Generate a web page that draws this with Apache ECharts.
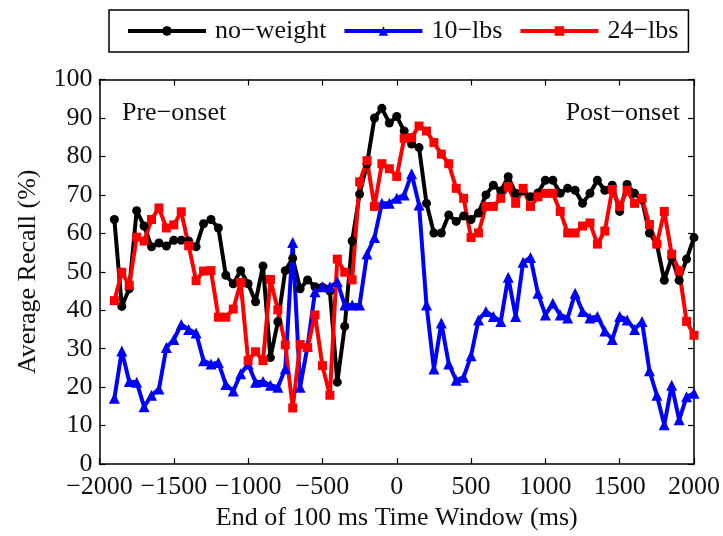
<!DOCTYPE html>
<html>
<head>
<meta charset="utf-8">
<script src="https://cdn.jsdelivr.net/npm/echarts@6/dist/echarts.min.js"></script>
<style>
  html, body { margin: 0; padding: 0; background: #fff; }
  #chart { width: 723px; height: 536px; }
</style>
</head>
<body>
<div id="chart"></div>
<script>
// end of each 100 ms window (ms)
const TIMES = [-1900, -1850, -1800, -1750, -1700, -1650, -1600, -1550, -1500, -1450,
  -1400, -1350, -1300, -1250, -1200, -1150, -1100, -1050, -1000, -950,
  -900, -850, -800, -750, -700, -650, -600, -550, -500, -450,
  -400, -350, -300, -250, -200, -150, -100, -50, 0, 50,
  100, 150, 200, 250, 300, 350, 400, 450, 500, 550,
  600, 650, 700, 750, 800, 850, 900, 950, 1000, 1050,
  1100, 1150, 1200, 1250, 1300, 1350, 1400, 1450, 1500, 1550,
  1600, 1650, 1700, 1750, 1800, 1850, 1900, 1950, 2000]

const NO_WEIGHT = [63.6, 41, 45.6, 65.9, 61.9, 56.5, 57.5, 56.7, 58.2, 58.2,
  58, 56.5, 62.5, 63.6, 61.4, 49.1, 46.9, 50.3, 46.9, 42.2,
  51.5, 27.7, 37, 50.3, 53.5, 45.6, 47.9, 46.1, 46, 45,
  21.3, 35.8, 58, 70.2, 78, 90, 92.5, 88.7, 90.4, 86.6,
  83.2, 82.3, 67.8, 60.1, 60.1, 64.8, 63.1, 64.5, 63.6, 65.3,
  70, 72.5, 71, 74.7, 70.4, 71, 69.5, 70.5, 73.8, 73.8,
  70.4, 71.7, 71.2, 67.8, 70.4, 73.8, 71.2, 72.5, 65.7, 72.7,
  70.4, 68.7, 60.1, 57.2, 47.8, 53.7, 47.8, 53.3, 58.9]

const LBS_10 = [17.1, 29.4, 21.5, 21.3, 14.9, 17.9, 19.5, 30.3, 32.4, 36.3,
  35, 34.1, 26.9, 26, 26.4, 20.7, 19, 23.5, 26, 21.3,
  21.5, 20.5, 20, 24.8, 57.6, 20, 30.7, 44.8, 46.1, 46.1,
  47.4, 41.4, 41.4, 41.4, 54.6, 58.9, 67.8, 67.8, 69.1, 70,
  75.5, 67.4, 41.4, 24.7, 36.7, 26, 21.8, 22.6, 28.2, 37.5,
  39.7, 38.4, 37.1, 48.6, 38.4, 52.5, 53.7, 44.4, 38.8, 41.8,
  38.8, 38, 44.4, 39.7, 38, 38.4, 34.6, 32.4, 38.4, 37.5,
  35, 37.1, 24.3, 17.9, 10.2, 20.5, 11.5, 17.5, 18.4]

const LBS_24 = [42.5, 49.9, 46.5, 59, 58, 63.6, 66.6, 61.4, 62.2, 65.6,
  56.8, 47.7, 50.2, 50.3, 38.2, 38.2, 40.3, 47.2, 26.9, 29.2,
  26.9, 48, 40.1, 31, 14.6, 31.1, 30.3, 38.8, 25.6, 17.9,
  53.3, 49.9, 47.9, 73.4, 78.9, 67, 78.1, 76.8, 74.8, 84.7,
  84.9, 87.9, 86.6, 83.6, 80.6, 78.1, 71.7, 69.1, 58.9, 60.1,
  67, 67, 69.1, 72.1, 67.8, 71.7, 67, 69.5, 70.4, 70.4,
  65.7, 60.1, 60.1, 61.9, 62.7, 57.2, 60.6, 71.4, 67, 71.2,
  67.8, 69.1, 62.3, 57.2, 65.7, 54.6, 50.3, 37.1, 33.5]

const SERIES_NAMES = ['no\u2212weight', '10\u2212lbs', '24\u2212lbs']

const FONT = "'Liberation Serif', 'Times New Roman', serif"

function pairs(vals) {
  return TIMES.map((t, i) => [t, vals[i]])
}

function minusFmt(v) {
  return v < 0 ? '\u2212' + (-v) : String(v)
}

const axisBase = {
  axisLine: { onZero: false, lineStyle: { color: '#000', width: 1.5 } },
  axisTick: { inside: true, length: 6, lineStyle: { color: '#000', width: 1.2 } },
  splitLine: { show: false }
}

let option = {
  animation: false,
  backgroundColor: '#fff',
  grid: { left: 99.5, right: 28, top: 79.5, bottom: 66 },
  legend: {
    data: SERIES_NAMES,
    left: 109,
    top: 10,
    padding: [6, 10, 6, 17],
    itemGap: 16,
    itemWidth: 78,
    itemHeight: 12,
    borderColor: '#000',
    borderWidth: 1.5,
    lineStyle: { width: 4 },
    textStyle: { fontFamily: FONT, fontSize: 26, color: '#111', padding: [0, 0, 0, 4], lineHeight: 30 }
  },
  xAxis: [
    Object.assign({}, axisBase, {
      type: 'value', min: -2000, max: 2000, interval: 500,
      name: 'End of 100 ms Time Window (ms)',
      nameLocation: 'middle', nameGap: 40,
      nameTextStyle: { fontFamily: FONT, fontSize: 26, color: '#111' },
      axisLabel: { fontFamily: FONT, fontSize: 26, color: '#111', margin: 10, formatter: minusFmt }
    }),
    Object.assign({}, axisBase, {
      type: 'value', position: 'top', min: -2000, max: 2000, interval: 500,
      axisLabel: { show: false }
    })
  ],
  yAxis: [
    Object.assign({}, axisBase, {
      type: 'value', min: 0, max: 100, interval: 10,
      name: 'Average Recall (%)',
      nameLocation: 'middle', nameGap: 58,
      nameTextStyle: { fontFamily: FONT, fontSize: 26, color: '#111' },
      axisLabel: { fontFamily: FONT, fontSize: 26, color: '#111', margin: 7 }
    }),
    Object.assign({}, axisBase, {
      type: 'value', position: 'right', min: 0, max: 100, interval: 10,
      axisLabel: { show: false }
    })
  ],
  graphic: [
    { type: 'text', left: 122, top: 100, style: { text: 'Pre\u2212onset', font: '26px ' + FONT, fill: '#111' } },
    { type: 'text', right: 43, top: 100, style: { text: 'Post\u2212onset', font: '26px ' + FONT, fill: '#111' } }
  ],
  series: [
    {
      name: SERIES_NAMES[0],
      type: 'line',
      data: pairs(NO_WEIGHT),
      symbol: 'circle',
      symbolSize: 9,
      color: '#000',
      lineStyle: { width: 4, color: '#000' },
      itemStyle: { color: '#000' }
    },
    {
      name: SERIES_NAMES[1],
      type: 'line',
      data: pairs(LBS_10),
      symbol: 'triangle',
      symbolSize: 11,
      color: '#0000ff',
      lineStyle: { width: 4, color: '#0000ff' },
      itemStyle: { color: '#0000ff' }
    },
    {
      name: SERIES_NAMES[2],
      type: 'line',
      data: pairs(LBS_24),
      symbol: 'rect',
      symbolSize: 9,
      color: '#ff0000',
      lineStyle: { width: 4, color: '#ff0000' },
      itemStyle: { color: '#ff0000' }
    }
  ]
}

let chart = echarts.init(document.getElementById('chart'))
chart.setOption(option)
</script>
</body>
</html>
